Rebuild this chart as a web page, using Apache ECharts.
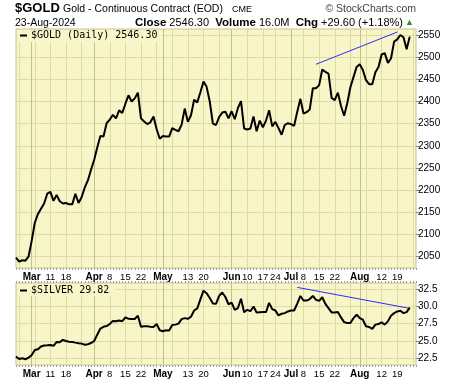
<!DOCTYPE html>
<html><head><meta charset="utf-8">
<script src="https://cdn.jsdelivr.net/npm/echarts@6/dist/echarts.min.js"></script>
<style>html,body{margin:0;padding:0;background:#fff}#c{width:460px;height:383px}</style>
</head><body><div id="c"></div>
<script>
// trading days (2024), the last two are empty slots at the right edge
const febDays=[23,26,27,28,29];
const marDays=[1,4,5,6,7,8,11,12,13,14,15,18,19,20,21,22,25,26,27,28];
const aprDays=[1,2,3,4,5,8,9,10,11,12,15,16,17,18,19,22,23,24,25,26,29,30];
const mayDays=[1,2,3,6,7,8,9,10,13,14,15,16,17,20,21,22,23,24,28,29,30,31];
const junDays=[3,4,5,6,7,10,11,12,13,14,17,18,20,21,24,25,26,27,28];
const julDays=[1,2,3,5,8,9,10,11,12,15,16,17,18,19,22,23,24,25,26,29,30,31];
const augDays=[1,2,5,6,7,8,9,12,13,14,15,16,19,20,21,22,23,26,27];

const goldValues=[2048,2039,2042,2041,2050,2085,2126,2146,2158,2170,
2192,2196,2176,2189,2175,2170,2171,2168,2168,2192,
2171,2184,2206,2222,2246,2268,2296,2322,2321,2351,
2359,2370,2362,2380,2374,2395,2414,2400,2407,2420,
2362,2355,2349,2353,2366,2338,2316,2322,2321,2321,
2340,2336,2333,2348,2384,2354,2369,2404,2398,2421,
2445,2433,2400,2350,2347,2365,2375,2377,2362,2378,
2360,2385,2401,2339,2337,2339,2366,2333,2357,2342,
2357,2380,2344,2354,2340,2325,2347,2351,2349,2345,
2377,2406,2373,2376,2382,2430,2430,2437,2472,2467,
2463,2408,2403,2420,2390,2368,2396,2432,2455,2478,
2484,2471,2448,2439,2439,2466,2478,2506,2509,2487,
2497,2535,2540,2550,2545,2518,2546.30];

const silverValues=[22.74,22.40,22.50,22.36,22.60,22.95,23.70,23.80,24.20,24.35,
24.38,24.42,24.30,24.85,24.83,25.15,25.00,24.90,24.85,24.76,
24.68,24.62,24.45,24.52,24.70,25.00,25.90,26.80,27.05,27.15,
27.45,27.90,27.85,27.95,27.85,28.40,28.20,28.17,28.17,28.65,
27.05,27.12,27.12,27.05,27.02,27.45,26.55,26.40,26.55,26.50,
27.30,27.36,27.50,28.15,28.30,28.20,28.50,29.40,29.70,31.00,
32.26,31.90,31.20,30.40,30.36,31.50,32.00,31.35,30.30,30.55,
29.50,29.74,31.10,29.15,29.50,29.30,29.98,29.10,29.15,29.17,
29.17,30.50,29.60,29.40,28.70,28.93,29.02,29.26,29.40,29.40,
30.40,31.50,30.85,30.83,31.05,31.50,30.93,30.80,31.31,30.36,
29.74,29.12,29.12,29.17,28.40,27.72,27.60,27.60,28.30,28.79,
28.31,28.07,27.12,27.02,26.74,27.36,27.45,27.69,27.36,27.83,
28.64,29.02,29.26,29.36,29.02,29.17,29.82];

const goldTicks=[2050,2100,2150,2200,2250,2300,2350,2400,2450,2500,2550];
const silverTicks=[22.5,25.0,27.5,30.0,32.5];
const tickLabels=[['2024-03-01','Mar',1],['2024-03-11','11',0],['2024-03-18','18',0],
['2024-04-01','Apr',1],['2024-04-08','8',0],['2024-04-15','15',0],['2024-04-22','22',0],
['2024-05-01','May',1],['2024-05-13','13',0],['2024-05-20','20',0],
['2024-06-03','Jun',1],['2024-06-10','10',0],['2024-06-17','17',0],['2024-06-24','24',0],
['2024-07-01','Jul',1],['2024-07-08','8',0],['2024-07-15','15',0],['2024-07-22','22',0],
['2024-08-01','Aug',1],['2024-08-12','12',0],['2024-08-19','19',0]];
const goldTrend=[['2024-07-12',2484],['2024-08-19',2556.6]];
const silverTrend=[['2024-07-03',32.74],['2024-08-23',29.70]];

const pad=n=>(n<10?'0':'')+n;
const cats=[];
[[2,febDays],[3,marDays],[4,aprDays],[5,mayDays],[6,junDays],[7,julDays],[8,augDays]].forEach(([m,ds])=>ds.forEach(d=>cats.push('2024-'+pad(m)+'-'+pad(d))));
const labelMap={};tickLabels.forEach(t=>labelMap[t[0]]=t[2]?'{m|'+t[1]+'}':t[1]);
const weekStart=new Set(), monthStart=new Set();
for(let i=1;i<cats.length;i++){
  const a=new Date(cats[i-1]+'T00:00:00Z'), b=new Date(cats[i]+'T00:00:00Z');
  if(b.getUTCMonth()!==a.getUTCMonth()) monthStart.add(i);
  else if(b.getUTCDay()<=a.getUTCDay()) weekStart.add(i);
}

const bg='#f8f6c8', lightGrid='#dcdca4', darkGrid='#bcc488', borderC='#c2c28c';
const FONT='"Liberation Sans", Arial, sans-serif';
const MONO='"DejaVu Sans Mono", monospace';

function xAxes(gi){
  return [
  {type:'category',gridIndex:gi,data:cats,boundaryGap:false,position:'bottom',
   axisLine:{show:false},
   axisTick:{show:true,interval:0,length:2,lineStyle:{color:'#a0a0a0'}},
   axisLabel:{show:true,interval:(i,v)=>labelMap[v]!==undefined,formatter:v=>labelMap[v]||'',
     color:'#000',fontFamily:FONT,fontSize:9.5,margin:4,
     rich:{m:{fontWeight:'bold',fontSize:10,fontFamily:FONT,color:'#000'}}},
   splitLine:{show:true,interval:(i)=>weekStart.has(i),lineStyle:{color:lightGrid,width:1}}},
  {type:'category',gridIndex:gi,data:cats,boundaryGap:false,position:'bottom',
   axisLine:{show:false},axisTick:{show:false},axisLabel:{show:false},
   splitLine:{show:true,interval:(i)=>monthStart.has(i),lineStyle:{color:darkGrid,width:1}}}
  ];
}

const option={
  animation:false,
  backgroundColor:'#fff',
  grid:[
    {left:16,right:44,top:29,height:239,show:true,backgroundColor:bg,borderColor:borderC,borderWidth:1},
    {left:16,right:44,top:283,height:82,show:true,backgroundColor:bg,borderColor:borderC,borderWidth:1}
  ],
  xAxis:[...xAxes(0),...xAxes(1),
    {type:'category',gridIndex:1,data:cats,boundaryGap:false,position:'top',
     axisLine:{show:false},axisLabel:{show:false},splitLine:{show:false},
     axisTick:{show:true,interval:0,length:2,lineStyle:{color:'#a0a0a0'}}}],
  yAxis:[
    {type:'value',gridIndex:0,position:'right',min:2024.5,max:2563.5,
     axisLine:{show:false},
     axisTick:{show:true,length:4,customValues:goldTicks,lineStyle:{color:'#888'}},
     axisLabel:{customValues:goldTicks,formatter:v=>String(v),color:'#000',fontFamily:FONT,fontSize:10,margin:2},
     splitLine:{show:true,lineStyle:{color:lightGrid,width:1}}},
    {type:'value',gridIndex:1,position:'right',min:21.53,max:33.37,
     axisLine:{show:false},
     axisTick:{show:true,length:4,customValues:silverTicks,lineStyle:{color:'#888'}},
     axisLabel:{customValues:silverTicks,formatter:v=>v.toFixed(1),color:'#000',fontFamily:FONT,fontSize:10,margin:2},
     splitLine:{show:true,lineStyle:{color:lightGrid,width:1}}}
  ],
  series:[
    {type:'line',xAxisIndex:0,yAxisIndex:0,data:goldValues,showSymbol:false,
     lineStyle:{color:'#000',width:2},z:5,
     markLine:{silent:true,symbol:'none',label:{show:false},lineStyle:{color:'#2b2bff',width:1,type:'solid'},
       data:[[{coord:goldTrend[0]},{coord:goldTrend[1]}]]}},
    {type:'line',xAxisIndex:2,yAxisIndex:1,data:silverValues,showSymbol:false,
     lineStyle:{color:'#000',width:2},z:5,
     markLine:{silent:true,symbol:'none',label:{show:false},lineStyle:{color:'#2b2bff',width:1,type:'solid'},
       data:[[{coord:silverTrend[0]},{coord:silverTrend[1]}]]}}
  ],
  graphic:[
    {type:'text',z:20,x:15,y:8.5,style:{text:'$GOLD',font:'bold 13px '+FONT,fill:'#000',verticalAlign:'middle'}},
    {type:'text',z:20,x:63,y:9.5,style:{text:'Gold - Continuous Contract (EOD)',font:'10.5px '+FONT,fill:'#000',verticalAlign:'middle'}},
    {type:'text',z:20,x:232,y:10,style:{text:'CME',font:'9px '+FONT,fill:'#000',verticalAlign:'middle'}},
    {type:'text',z:20,x:416,y:9,style:{text:'\u00a9 StockCharts.com',font:'10.5px '+FONT,fill:'#444',align:'right',verticalAlign:'middle'}},
    {type:'text',z:20,x:15,y:23,style:{text:'23-Aug-2024',font:'10.5px '+FONT,fill:'#000',verticalAlign:'middle'}},
    {type:'text',z:20,x:403,y:23,style:{text:'{b|Close} 2546.30  {b|Volume} 16.0M  {b|Chg} +29.60 (+1.18%)',
       font:'11px '+FONT,fill:'#000',align:'right',verticalAlign:'middle',
       rich:{b:{font:'bold 11.5px '+FONT,fill:'#000'}}}},
    {type:'text',z:20,x:405,y:22.5,style:{text:'\u25b2',font:'9px '+FONT,fill:'#2e8b2e',verticalAlign:'middle'}},
    {type:'rect',z:19,shape:{x:18,y:30,width:144,height:12},style:{fill:bg}},
    {type:'rect',z:20,shape:{x:20,y:34.5,width:7,height:2},style:{fill:'#000'}},
    {type:'text',z:20,x:31,y:35.7,style:{text:'$GOLD (Daily) 2546.30',font:'10px '+MONO,fill:'#000',verticalAlign:'middle'}},
    {type:'rect',z:19,shape:{x:18,y:284,width:98,height:12},style:{fill:bg}},
    {type:'rect',z:20,shape:{x:20,y:289.5,width:7,height:2},style:{fill:'#000'}},
    {type:'text',z:20,x:31,y:290.7,style:{text:'$SILVER 29.82',font:'10px '+MONO,fill:'#000',verticalAlign:'middle'}}
  ]
};
const chart=echarts.init(document.getElementById('c'));
chart.setOption(option);
</script></body></html>
